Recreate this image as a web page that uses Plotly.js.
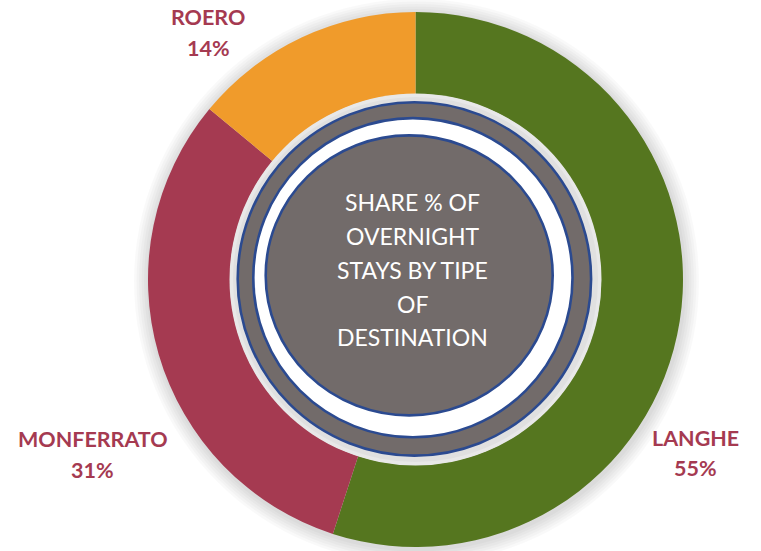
<!DOCTYPE html>
<html>
<head>
<meta charset="utf-8">
<script src="https://cdn.plot.ly/plotly-3.0.1.min.js"></script>
<style>html,body{margin:0;padding:0;background:#fff;}#chart{width:761px;height:551px;}</style>
</head>
<body>
<div id="chart"></div>
<script>
// ---- data ----
const categories = ["LANGHE", "MONFERRATO", "ROERO"];
const shares = [55, 31, 14];
const sliceColors = ["#55761f", "#a53a51", "#f09b2b"];
const centerLines = ["SHARE % OF", "OVERNIGHT", "STAYS BY TIPE", "OF", "DESTINATION"];

// ---- geometry helpers (pixels -> paper) ----
const W = 761, H = 551;
const px = x => x / W;
const py = y => 1 - y / H;
const cx = 415.5, cy = 279.5, R = 267.5, Rin = 185.5;

function ellipse(x, y, rx, ry, fill, line, layer, opacity) {
  return {
    type: "circle", xref: "paper", yref: "paper",
    x0: px(x - rx), x1: px(x + rx), y0: py(y + ry), y1: py(y - ry),
    fillcolor: fill, opacity: opacity === undefined ? 1 : opacity,
    line: line ? {color: line, width: 2.6} : {width: 0},
    layer: layer || "above"
  };
}

const shapes = [];
// soft drop shadow around donut
for (let k = 1; k <= 6; k++) {
  shapes.push(ellipse(cx + 1, cy + 2, R + 2.5 * k, R + 2.5 * k, "#000", null, "below", 0.022));
}
// inner halo and rings
shapes.push(ellipse(cx, cy, Rin + 0.5, Rin + 0.5, "#e8e8e8", null));
shapes.push(ellipse(cx, cy, Rin - 3, Rin - 3, "#e0e0e0", null));
shapes.push(ellipse(414.4, 278.9, 176.7, 176.7, "#726b6a", "#2b4a90"));
shapes.push(ellipse(412.9, 277.7, 159.6, 159.6, "#ffffff", "#2b4a90"));
shapes.push(ellipse(409.2, 275.4, 143.5, 140, "#726b6a", "#2b4a90"));

// ---- annotations ----
const labelColor = "#a53a51";
const labelPos = {
  "LANGHE": [695, 438, 468],
  "MONFERRATO": [92.5, 439, 470],
  "ROERO": [208, 17, 48]
};
const annotations = [];
categories.forEach((c, i) => {
  const p = labelPos[c];
  annotations.push({xref: "paper", yref: "paper", x: px(p[0]), y: py(p[1]), text: "<b>" + c + "</b>",
    showarrow: false, xanchor: "center", yanchor: "middle",
    font: {family: "Lato, 'Open Sans', sans-serif", size: 21.5, color: labelColor}});
  annotations.push({xref: "paper", yref: "paper", x: px(p[0]), y: py(p[2]), text: "<b>" + shares[i] + "%</b>",
    showarrow: false, xanchor: "center", yanchor: "middle",
    font: {family: "Lato, 'Open Sans', sans-serif", size: 21.5, color: labelColor}});
});
const lineY = [202, 236.5, 270, 303.5, 337];
centerLines.forEach((t, i) => {
  annotations.push({xref: "paper", yref: "paper", x: px(412.5), y: py(lineY[i]), text: t,
    showarrow: false, xanchor: "center", yanchor: "middle",
    font: {family: "Lato, 'Open Sans', sans-serif", size: 23, color: "#ffffff"}});
});

const trace = {
  type: "pie",
  labels: categories,
  values: shares,
  sort: false,
  direction: "clockwise",
  rotation: 0,
  hole: Rin / R,
  textinfo: "none",
  hoverinfo: "label+percent",
  marker: {colors: sliceColors, line: {width: 0}},
  domain: {x: [px(cx - R), px(cx + R)], y: [py(cy + R), py(cy - R)]},
  showlegend: false
};

Plotly.newPlot("chart", [trace], {
  width: W, height: H,
  margin: {l: 0, r: 0, t: 0, b: 0},
  paper_bgcolor: "#ffffff",
  plot_bgcolor: "#ffffff",
  shapes: shapes,
  annotations: annotations,
  showlegend: false
}, {displayModeBar: false, staticPlot: true});
</script>
</body>
</html>
